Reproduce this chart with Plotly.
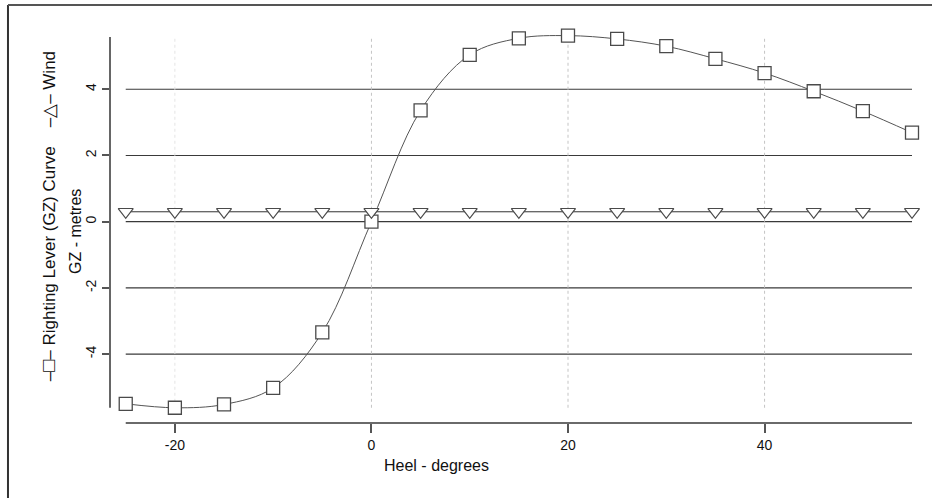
import plotly.graph_objects as go

# Heel angles (degrees) at which the righting lever is tabulated
heel = [-25, -20, -15, -10, -5, 0, 5, 10, 15, 20, 25, 30, 35, 40, 45, 50, 55]
# Righting lever GZ (metres)
gz = [-5.50, -5.62, -5.52, -5.02, -3.34, 0.00, 3.36, 5.04, 5.54, 5.62, 5.52,
      5.30, 4.92, 4.49, 3.94, 3.34, 2.69]
# Wind heeling lever (metres)
wind = [0.30, 0.30, 0.30, 0.30, 0.30, 0.30, 0.30, 0.30, 0.30, 0.30, 0.30,
        0.30, 0.30, 0.30, 0.30, 0.30, 0.30]

x_ticks = [-20, 0, 20, 40]
y_ticks = [-4, -2, 0, 2, 4]
x_grid = [-20, 0, 20, 40]
y_grid = [-4, -2, 0, 2, 4]

X_RANGE = [-26.6, 55.0]
Y_RANGE = [-6.08, 5.79]
Y_DATA = [-5.62, 5.58]

FONT = "Liberation Sans, Arial, sans-serif"

fig = go.Figure()

# Righting lever curve (smooth spline through tabulated points)
fig.add_trace(go.Scatter(
    x=heel, y=gz, mode="lines+markers", name="Righting Lever (GZ) Curve",
    line=dict(color="#555555", width=1, shape="spline", smoothing=1.0),
    marker=dict(symbol="square", size=13, color="white",
                line=dict(color="#4a4a4a", width=1.3)),
    cliponaxis=False, showlegend=False,
))

# Wind heeling lever
fig.add_trace(go.Scatter(
    x=heel, y=wind, mode="lines+markers", name="Wind",
    line=dict(color="#333333", width=1),
    marker=dict(symbol="triangle-down", size=13, color="white",
                line=dict(color="#4a4a4a", width=1.2)),
    cliponaxis=False, showlegend=False,
))

shapes = []
# horizontal reference lines across the data range
for yv in y_grid:
    shapes.append(dict(type="line", xref="x", yref="y", x0=heel[0], x1=heel[-1],
                       y0=yv, y1=yv, line=dict(color="#3a3a3a", width=1.2),
                       layer="below"))
# vertical dotted lines
for xv in x_grid:
    shapes.append(dict(type="line", xref="x", yref="y", x0=xv, x1=xv,
                       y0=Y_DATA[0], y1=Y_DATA[1],
                       line=dict(color="#c4c4c4" if xv != -20 else "#e4e4e4",
                                 width=1, dash="dot"),
                       layer="below"))
# detached axis lines
shapes.append(dict(type="line", xref="x", yref="paper", x0=heel[0], x1=heel[-1],
                   y0=0, y1=0, line=dict(color="#6a6a6a", width=2)))
shapes.append(dict(type="line", xref="paper", yref="y", x0=0, x1=0,
                   y0=Y_DATA[0], y1=Y_DATA[1], line=dict(color="#333333", width=1.5)))
# page frame
shapes.append(dict(type="line", xref="paper", yref="paper", x0=-0.1272, x1=-0.1272,
                   y0=1.0636, y1=-0.25, line=dict(color="#333333", width=2)))
shapes.append(dict(type="line", xref="paper", yref="paper", x0=-0.1272, x1=1.05,
                   y0=1.0636, y1=1.0636, line=dict(color="#555555", width=2)))

legend_text = ("–<span style='font-size:20px'>□</span>– Righting Lever (GZ) Curve"
               "    –<span style='font-size:18px'>△</span>– Wind")

annotations = [
    dict(text=legend_text, textangle=-90,
         xref="paper", yref="paper", x=-0.0773, y=0.526, showarrow=False,
         xanchor="center", yanchor="middle",
         font=dict(family=FONT, size=17, color="#111111")),
    dict(text="GZ - metres", textangle=-90,
         xref="paper", yref="paper", x=-0.0436, y=0.486, showarrow=False,
         xanchor="center", yanchor="middle",
         font=dict(family=FONT, size=16, color="#111111")),
    dict(text="Heel - degrees",
         xref="paper", yref="paper", x=0.4065, y=-0.1094, showarrow=False,
         xanchor="center", yanchor="middle",
         font=dict(family=FONT, size=16, color="#111111")),
]

fig.update_layout(
    width=932, height=498,
    margin=dict(l=110, r=20, t=30, b=75),
    paper_bgcolor="white", plot_bgcolor="white",
    shapes=shapes, annotations=annotations,
    showlegend=False,
    xaxis=dict(range=X_RANGE, showgrid=False, zeroline=False, showline=False,
               tickmode="array", tickvals=x_ticks,
               ticktext=[str(v) for v in x_ticks],
               ticks="outside", ticklen=9, tickwidth=1.5, tickcolor="#555555",
               tickfont=dict(family=FONT, size=14, color="#111111")),
    yaxis=dict(range=Y_RANGE, showgrid=False, zeroline=False, showline=False,
               tickmode="array", tickvals=y_ticks,
               ticktext=[str(v) for v in y_ticks],
               ticks="outside", ticklen=7, tickwidth=1.5, tickcolor="#555555",
               tickangle=-90,
               tickfont=dict(family=FONT, size=14, color="#111111")),
)

fig.write_html("out.html")
